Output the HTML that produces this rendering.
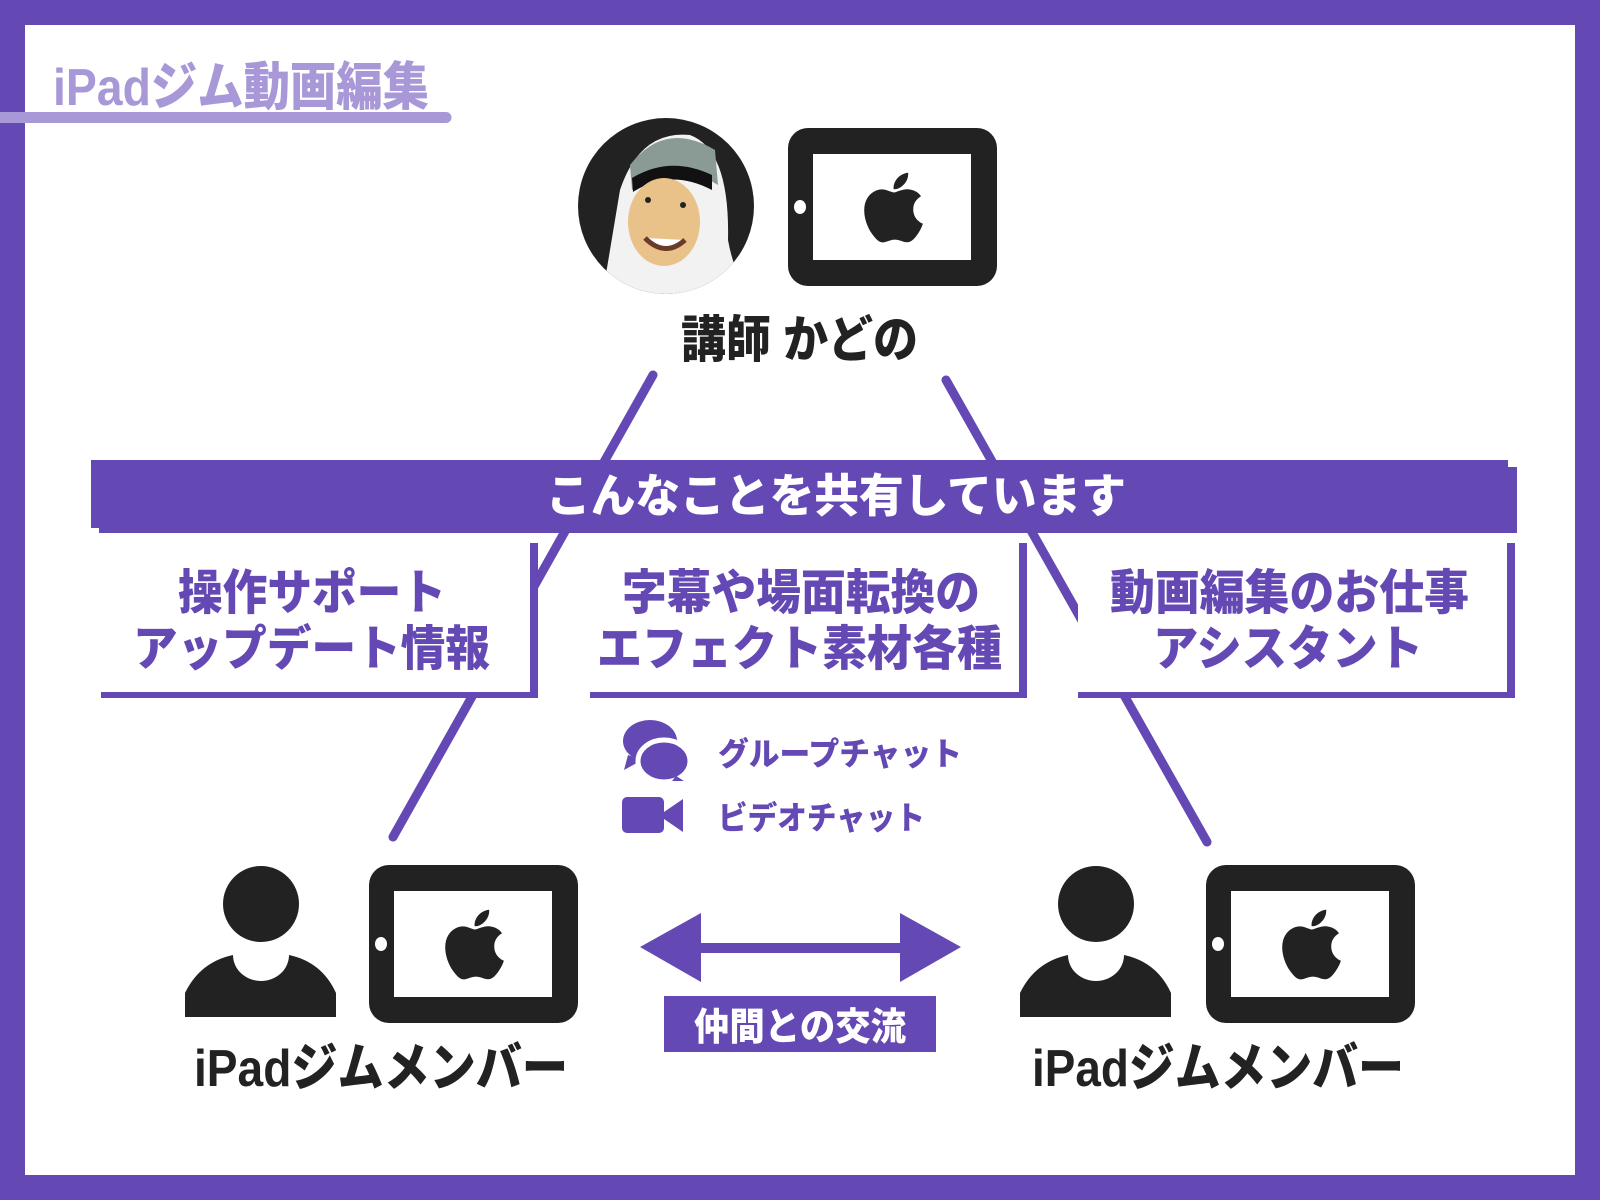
<!DOCTYPE html>
<html><head><meta charset="utf-8"><style>
html,body{margin:0;padding:0;background:#fff}
svg{display:block}
text{font-family:"Liberation Sans","Noto Sans CJK JP",sans-serif;font-weight:900}
</style></head><body>
<svg width="1600" height="1200" viewBox="0 0 1600 1200" xmlns="http://www.w3.org/2000/svg">
<defs>
<path id="apple" d="M150.37 130.25c-2.45 5.66-5.35 10.87-8.71 15.66-4.58 6.53-8.330 11.05-11.22 13.56-4.48 4.12-9.28 6.23-14.42 6.35-3.69 0-8.14-1.05-13.32-3.18-5.197-2.12-9.973-3.17-14.34-3.17-4.58 0-9.492 1.05-14.746 3.17-5.262 2.14-9.501 3.250-12.742 3.36-4.929 0.21-9.842-1.96-14.746-6.52-3.13-2.73-7.045-7.41-11.735-14.04-5.032-7.08-9.169-15.29-12.410-24.65-3.471-10.11-5.211-19.9-5.211-29.378 0-10.857 2.346-20.221 7.045-28.068 3.693-6.303 8.606-11.275 14.755-14.925s12.793-5.510 19.948-5.629c3.915 0 9.049 1.211 15.429 3.591 6.362 2.388 10.447 3.599 12.238 3.599 1.339 0 5.877-1.416 13.570-4.239 7.275-2.618 13.415-3.702 18.445-3.275 13.630 1.1 23.870 6.473 30.680 16.153-12.190 7.386-18.220 17.731-18.100 31.002 0.110 10.337 3.860 18.939 11.230 25.769 3.340 3.170 7.070 5.620 11.220 7.360-0.900 2.610-1.850 5.110-2.860 7.510zM119.11 7.24c0 8.102-2.960 15.667-8.860 22.669-7.120 8.324-15.732 13.134-25.071 12.375-0.119-0.972-0.188-1.995-0.188-3.070 0-7.778 3.386-16.102 9.399-22.908 3.002-3.446 6.820-6.311 11.450-8.597 4.620-2.252 8.990-3.497 13.100-3.710 0.120 1.083 0.170 2.166 0.170 3.240z"/>
<g id="tablet">
<rect x="1206" y="865" width="209" height="158" rx="20" fill="#222"/>
<rect x="1231" y="891" width="158" height="106" fill="#fff"/>
<ellipse cx="1218" cy="944" rx="6" ry="7" fill="#fff"/>
<use href="#apple" transform="translate(1275,908) scale(0.43)" fill="#222"/>
</g>
<g id="person" fill="#222">
<ellipse cx="1096" cy="904" rx="38" ry="38"/>
<path d="M1020 1017 V993 Q1035 962 1068 955 A28 26 0 0 0 1124 955 Q1157 962 1171 993 V1017 Z"/>
</g>
<clipPath id="av"><circle cx="666" cy="206" r="88"/></clipPath>
</defs>

<!-- border -->
<rect x="0" y="0" width="1600" height="1200" fill="#6449b5"/>
<rect x="25" y="25" width="1550" height="1150" fill="#fff"/>

<!-- title -->
<text x="53" y="105" font-size="52" fill="#a898d8" textLength="376" lengthAdjust="spacingAndGlyphs">iPadジム動画編集</text>
<path d="M0 112 H446 a5.5 5.5 0 0 1 0 11 H0 Z" fill="#a898d8"/>

<!-- connector lines -->
<line x1="653" y1="375" x2="393" y2="837" stroke="#6449b5" stroke-width="9" stroke-linecap="round"/>
<line x1="946" y1="380" x2="1207" y2="842" stroke="#6449b5" stroke-width="9" stroke-linecap="round"/>

<!-- banner -->
<rect x="91" y="460" width="1417" height="68" fill="#6449b5"/>
<rect x="99" y="467" width="1418" height="66" fill="#6449b5"/>
<text x="546" y="512" font-size="46" fill="#fff" textLength="580" lengthAdjust="spacingAndGlyphs">こんなことを共有しています</text>

<!-- boxes -->
<rect x="101" y="543" width="437" height="155" fill="#fff"/>
<rect x="530" y="543" width="8" height="155" fill="#6449b5"/>
<rect x="101" y="692" width="437" height="6" fill="#6449b5"/>
<rect x="590" y="543" width="437" height="155" fill="#fff"/>
<rect x="1019" y="543" width="8" height="155" fill="#6449b5"/>
<rect x="590" y="692" width="437" height="6" fill="#6449b5"/>
<rect x="1078" y="543" width="437" height="155" fill="#fff"/>
<rect x="1507" y="543" width="8" height="155" fill="#6449b5"/>
<rect x="1078" y="692" width="437" height="6" fill="#6449b5"/>

<g fill="#6449b5" font-size="48">
<text x="178" y="609" textLength="268" lengthAdjust="spacingAndGlyphs">操作サポート</text>
<text x="133" y="665" textLength="357" lengthAdjust="spacingAndGlyphs">アップデート情報</text>
<text x="622" y="609" textLength="358" lengthAdjust="spacingAndGlyphs">字幕や場面転換の</text>
<text x="597" y="665" textLength="405" lengthAdjust="spacingAndGlyphs">エフェクト素材各種</text>
<text x="1110" y="609" textLength="359" lengthAdjust="spacingAndGlyphs">動画編集のお仕事</text>
<text x="1153" y="665" textLength="270" lengthAdjust="spacingAndGlyphs">アシスタント</text>
</g>

<!-- chat icons -->
<g fill="#6449b5">
<ellipse cx="650" cy="741" rx="27" ry="21"/>
<path d="M628 755 L624 770 L642 760 Z"/>
<ellipse cx="664" cy="761" rx="26" ry="21" stroke="#fff" stroke-width="5"/>
<path d="M676 776 L684 781 L672 781 Z"/>
<rect x="622" y="797" width="42" height="36" rx="5"/>
<path d="M664 812 L683 799 V832 L664 819 Z"/>
<text x="718" y="765" font-size="32" textLength="244" lengthAdjust="spacingAndGlyphs">グループチャット</text>
<text x="718" y="829" font-size="32" textLength="207" lengthAdjust="spacingAndGlyphs">ビデオチャット</text>
</g>

<!-- avatar -->
<g clip-path="url(#av)">
<rect x="570" y="110" width="200" height="200" fill="#222"/>
<path d="M600 310 Q610 250 620 190 Q640 130 690 135 Q730 150 728 240 Q735 280 760 310 Z" fill="#f2f2f2"/>
<path d="M630 165 Q665 120 715 150 L718 185 Q670 155 632 190 Z" fill="#8a9a94"/>
<path d="M632 178 Q670 155 712 175 L712 190 Q670 168 633 192 Z" fill="#111"/>
<ellipse cx="664" cy="222" rx="36" ry="44" fill="#e9c28a"/>
<path d="M645 238 Q665 258 685 240" stroke="#6b3b2a" stroke-width="5" fill="#fff"/>
<circle cx="648" cy="200" r="3" fill="#222"/><circle cx="683" cy="205" r="3" fill="#222"/>
</g>
<use href="#tablet" transform="translate(-418,-737)"/>
<text x="681" y="357" font-size="50" fill="#222" textLength="237" lengthAdjust="spacingAndGlyphs">講師 かどの</text>

<!-- members -->
<use href="#person"/>
<use href="#tablet"/>
<use href="#person" transform="translate(-835,0)"/>
<use href="#tablet" transform="translate(-837,0)"/>
<text x="194" y="1086" font-size="52" fill="#222" textLength="374" lengthAdjust="spacingAndGlyphs">iPadジムメンバー</text>
<text x="1032" y="1086" font-size="52" fill="#222" textLength="372" lengthAdjust="spacingAndGlyphs">iPadジムメンバー</text>

<!-- arrow -->
<g fill="#6449b5">
<rect x="695" y="943" width="210" height="10"/>
<path d="M961 947 L900 913 V982 Z"/>
<path d="M640 947 L701 913 V982 Z"/>
<rect x="664" y="996" width="272" height="56"/>
</g>
<text x="694" y="1040" font-size="38" fill="#fff" textLength="212" lengthAdjust="spacingAndGlyphs">仲間との交流</text>
</svg>
</body></html>
